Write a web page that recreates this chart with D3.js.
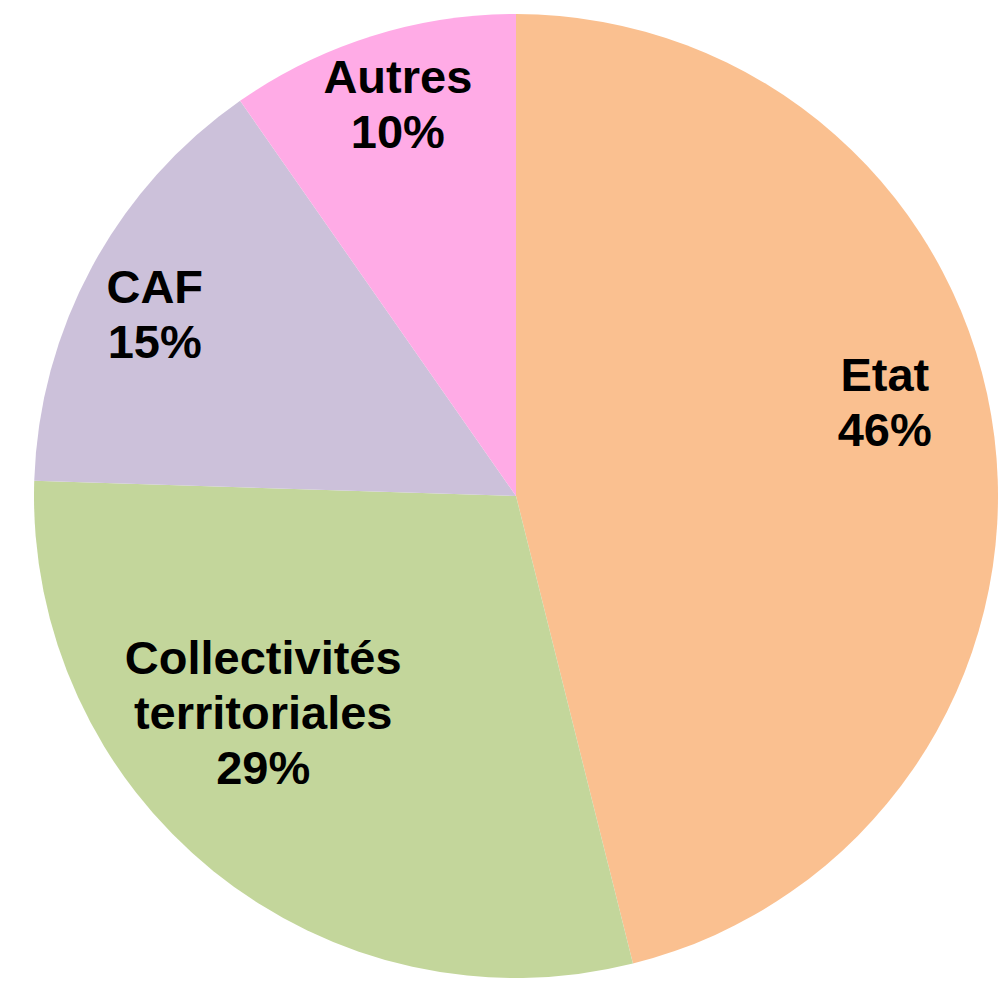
<!DOCTYPE html>
<html>
<head>
<meta charset="utf-8">
<script src="https://cdn.jsdelivr.net/npm/d3@7"></script>
<style>
  html, body { margin: 0; padding: 0; background: #ffffff; }
  svg { display: block; }
</style>
</head>
<body>
<script>
// ---- data ----
const categories = ["Etat", "Collectivités territoriales", "CAF", "Autres"];
const values = [46.1, 29.4, 14.8, 9.7];
const percentLabels = ["46%", "29%", "15%", "10%"];
const colors = ["#FAC090", "#C3D69B", "#CCC1DA", "#FFABE6"];
// label text lines (category names split as drawn)
const nameLines = [["Etat"], ["Collectivités", "territoriales"], ["CAF"], ["Autres"]];

// ---- layout ----
const W = 999, H = 983;
const cx = 516, cy = 496, R = 482;
// label placement: angular offset (deg) from slice mid-angle and radial fraction
const labelAngleOffset = [-7.4, 10.6, -1.6, 0.7];
const labelRadius = [0.79, 0.69, 0.84, 0.85];
const fontSize = 47, lineH = 55;

const svg = d3.select("body").append("svg").attr("width", W).attr("height", H);
const g = svg.append("g").attr("transform", `translate(${cx},${cy})`);

const pie = d3.pie().sort(null).value(d => d.v);
const data = pie(categories.map((c, i) => ({ c, v: values[i], i })));
const arc = d3.arc().innerRadius(0).outerRadius(R);

g.selectAll("path.slice").data(data).enter().append("path")
  .attr("class", "slice")
  .attr("d", arc)
  .attr("fill", d => colors[d.data.i]);

data.forEach(d => {
  const i = d.data.i;
  const mid = (d.startAngle + d.endAngle) / 2 + labelAngleOffset[i] * Math.PI / 180;
  const r = R * labelRadius[i];
  const x = Math.sin(mid) * r;
  const y = -Math.cos(mid) * r;
  const lines = nameLines[i].concat([percentLabels[i]]);
  const n = lines.length;
  const capH = fontSize * 0.716;
  const blockH = capH + (n - 1) * lineH;
  const firstBaseline = y - blockH / 2 + capH;
  const t = g.append("text")
    .attr("text-anchor", "middle")
    .attr("font-family", "'Liberation Sans', Arial, sans-serif")
    .attr("font-weight", "bold")
    .attr("font-size", fontSize)
    .attr("fill", "#000");
  lines.forEach((ln, k) => {
    t.append("tspan").attr("x", x).attr("y", firstBaseline + k * lineH).text(ln);
  });
});
</script>
</body>
</html>
